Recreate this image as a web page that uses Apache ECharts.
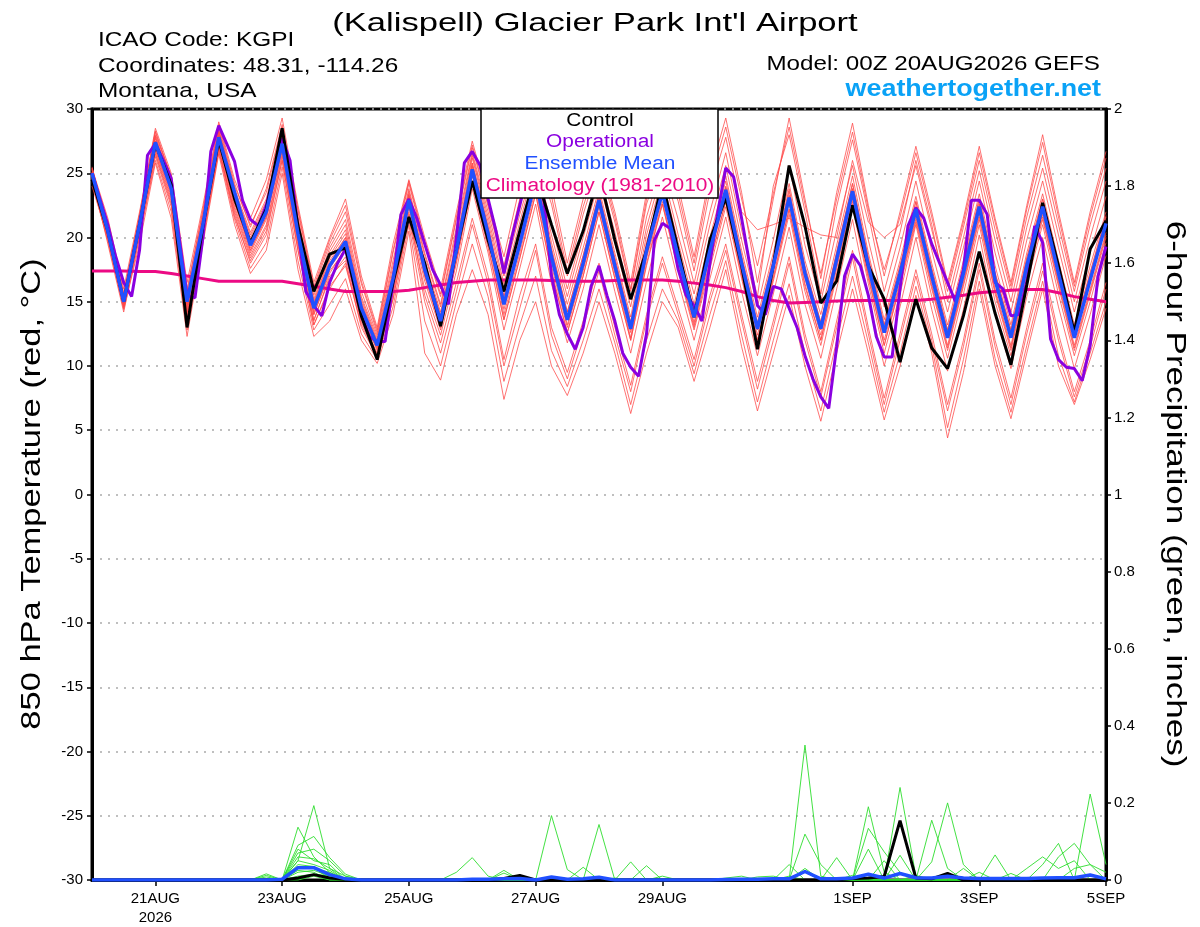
<!DOCTYPE html>
<html>
<head>
<meta charset="utf-8">
<script src="https://cdn.jsdelivr.net/npm/echarts@6/dist/echarts.min.js"></script>
<style>html,body{margin:0;padding:0;background:#fff}#c{width:1200px;height:927px}</style>
</head>
<body>
<div id="c"></div>
<script>
// ---- data (6-hourly steps from 00Z 20AUG2026, 65 steps) ----
const xTickSteps = [4, 12, 20, 28, 36, 48, 56, 64];
const xTickLabels = ['21AUG\n2026', '23AUG', '25AUG', '27AUG', '29AUG', '1SEP', '3SEP', '5SEP'];

const ensembleMean = [25.0,20.5,15.0,21.0,27.4,23.8,15.0,21.0,27.8,23.5,
  19.4,22.0,27.3,20.3,14.5,17.8,19.7,14.5,11.6,16.8,
  22.9,17.5,13.5,19.0,25.3,20.3,14.8,19.5,24.5,18.5,
  13.6,18.0,22.9,17.8,12.9,19.0,23.5,18.5,13.8,19.0,
  23.7,18.0,12.9,17.8,23.1,17.2,12.9,18.3,23.6,17.8,
  12.6,17.2,22.2,17.0,12.2,17.2,22.4,16.7,12.2,17.8,
  22.4,17.2,12.2,16.7,21.1];

const control = [24.5,20.5,15.0,21.0,27.3,24.1,13.0,20.9,27.6,23.0,
  19.6,22.2,28.5,20.9,15.8,18.7,19.2,13.9,10.5,16.5,
  21.6,18.0,13.1,19.0,24.4,19.8,15.8,20.5,25.0,21.0,
  17.2,20.5,25.0,19.8,15.2,19.0,24.3,19.0,13.8,19.8,
  23.1,17.8,11.3,17.8,25.6,20.9,14.9,16.6,22.5,17.8,
  15.2,10.3,15.2,11.4,9.8,13.9,18.9,14.1,10.1,16.3,
  22.7,17.8,12.6,19.1,21.3];

// operational run, 3-hourly (129 values)
const operational = [25.0,23.0,21.0,18.5,16.5,15.4,19.0,26.4,27.3,26.0,
  24.6,20.0,15.5,15.3,20.0,26.7,28.7,27.3,25.9,22.9,
  21.4,20.9,22.5,25.0,27.7,26.0,20.6,15.8,14.7,13.9,
  16.5,18.0,19.1,16.5,14.0,12.3,11.9,11.9,16.5,21.8,
  23.0,21.5,19.5,17.5,16.3,14.8,20.0,25.8,26.7,25.6,
  23.0,20.5,17.2,20.0,22.5,25.0,26.0,23.2,17.0,14.0,
  12.5,11.3,13.0,16.2,17.8,15.5,13.5,11.0,9.9,9.2,
  12.5,19.8,21.1,20.7,17.5,15.5,14.7,13.5,18.0,22.0,
  25.4,24.7,21.5,18.0,14.7,14.0,16.2,16.0,14.5,13.0,
  10.8,9.0,7.6,6.7,11.5,17.0,18.7,17.8,15.5,12.3,
  10.7,10.7,16.0,20.9,22.3,21.5,19.5,18.0,16.5,15.0,
  17.5,22.9,22.9,21.8,16.5,16.0,13.9,14.0,16.5,20.9,
  19.6,12.1,10.5,9.9,9.8,8.85,11.6,17.0,19.3];

const climatology = [17.4,17.4,17.4,17.35,17.35,17.2,17.0,16.8,16.6,16.6,
  16.6,16.6,16.6,16.4,16.2,16.0,15.8,15.8,15.8,15.8,
  15.9,16.1,16.3,16.5,16.6,16.7,16.7,16.7,16.7,16.65,
  16.6,16.6,16.6,16.65,16.7,16.7,16.7,16.6,16.45,16.3,
  16.1,15.8,15.4,15.1,14.9,14.95,15.0,15.05,15.1,15.1,
  15.1,15.1,15.1,15.2,15.35,15.5,15.7,15.8,15.9,15.95,
  15.95,15.7,15.4,15.2,15.0];

// ensemble member temperatures, one row per 6-h step, 20 members per row
const memberTempRows = [
  [24.8,25.2,25.0,24.6,25.4,24.9,25.1,24.7,25.3,24.0,25.5,24.9,25.0,24.5, 24.6,25.3,24.8,25.4,24.3,25.1],
  [20.2,21.0,20.6,19.8,21.5,20.4,20.9,19.5,21.2,20.0,20.7,20.3,20.8,19.9, 20.1,20.8,20.4,21.1,19.7,20.6],
  [14.8,15.5,15.0,14.4,16.0,14.9,15.3,14.2,15.7,14.6,15.2,15.1,14.7,15.4, 14.6,15.3,14.9,15.6,14.5,15.1],
  [20.6,21.8,21.0,19.5,22.0,20.8,21.3,20.0,21.5,20.3,21.1,20.9,21.6,20.5, 20.4,21.4,20.8,21.7,20.1,21.2],
  [26.8,28.5,27.5,25.8,28.2,27.0,27.8,26.3,28.0,26.6,27.4,27.2,27.9,26.9, 26.5,27.7,27.1,28.3,26.0,27.5],
  [23.0,25.0,24.0,21.5,24.6,23.4,24.2,22.4,24.8,22.8,23.8,23.6,24.4,23.2, 22.6,24.3,23.5,24.7,22.0,23.9],
  [13.8,16.5,14.6,12.3,16.0,14.2,15.0,13.2,15.5,13.5,14.8,14.4,15.2,14.0, 13.4,15.0,14.2,15.8,12.8,14.7],
  [20.4,22.5,21.2,19.5,22.0,20.8,21.5,20.0,21.8,20.2,21.0,20.9,21.6,20.6, 20.1,21.4,20.7,22.2,19.8,21.1],
  [27.2,29.0,28.0,26.5,28.6,27.6,28.2,27.0,28.4,26.8,27.8,27.5,28.3,27.4, 27.0,28.2,27.6,28.8,26.7,28.0],
  [22.2,24.5,23.2,21.0,24.0,22.8,23.5,21.8,23.8,22.0,23.0,22.6,23.6,22.4, 21.6,23.4,22.8,24.2,21.4,23.2],
  [18.6,21.5,19.6,17.2,21.0,19.0,20.0,18.0,20.4,18.4,19.4,19.2,20.2,18.8, 18.2,19.8,19.0,20.8,17.6,19.6],
  [21.0,24.5,22.2,19.0,23.5,21.6,22.6,20.2,23.0,20.8,22.0,21.8,22.8,21.4, 20.5,22.4,21.6,23.8,19.6,22.2],
  [26.5,29.3,27.5,25.0,28.6,27.0,27.9,26.0,28.2,26.3,27.3,27.1,28.0,26.8, 26.0,27.7,26.8,28.8,25.5,27.5],
  [19.6,22.5,20.8,17.5,22.0,20.2,21.2,19.0,21.6,19.4,20.5,20.3,21.4,20.0, 19.0,20.9,20.0,22.2,18.2,20.7],
  [13.6,16.5,14.7,12.3,16.0,14.2,15.0,13.2,15.5,13.5,14.6,14.4,15.2,14.0, 13.2,14.9,14.0,16.2,12.8,14.7],
  [16.8,20.0,18.2,13.5,19.5,17.6,18.6,16.2,19.2,17.0,17.9,17.8,18.9,17.4, 16.0,18.4,17.2,19.8,14.8,18.0],
  [18.5,23.0,20.0,16.0,22.0,19.4,20.6,17.8,21.4,18.2,19.8,19.6,21.0,19.0, 18.0,20.3,19.2,22.5,16.8,20.0],
  [13.6,17.0,14.8,12.0,16.4,14.2,15.2,13.2,15.8,13.4,14.6,14.4,15.4,14.0, 13.0,15.0,14.0,16.6,12.5,14.8],
  [11.0,13.0,11.8,10.2,12.6,11.4,12.0,10.8,12.4,10.9,11.7,11.5,12.2,11.2, 10.7,11.9,11.3,12.8,10.5,11.7],
  [15.8,19.5,17.0,14.0,18.8,16.5,17.4,15.2,18.2,15.6,16.9,16.7,17.8,16.2, 15.2,17.3,16.4,19.0,14.6,17.0],
  [22.0,24.5,23.2,20.5,24.2,22.6,23.4,21.6,23.8,21.8,23.0,22.8,23.6,22.4, 21.4,23.3,22.5,24.4,21.0,23.1],
  [15.5,20.0,17.8,11.0,19.4,17.2,18.2,16.0,18.8,16.6,17.6,17.4,18.6,17.0, 15.0,18.0,17.0,19.6,13.5,17.8],
  [11.8,16.0,13.8,8.9,15.4,13.2,14.2,12.4,14.8,12.8,13.6,13.4,14.6,13.0, 11.0,14.0,13.0,15.6,10.0,13.8],
  [16.5,22.0,19.4,14.0,21.4,18.6,19.8,17.4,20.8,18.0,19.2,19.0,20.4,18.4, 15.8,19.6,18.2,21.6,15.0,19.4],
  [21.5,27.5,25.8,17.5,27.0,25.0,26.2,23.8,26.6,24.4,25.5,25.3,26.4,24.8, 21.0,25.8,24.2,27.2,19.5,25.6],
  [17.0,23.0,20.8,14.0,22.4,20.0,21.2,18.8,22.0,19.4,20.4,20.2,21.6,19.8, 16.4,20.8,19.2,22.6,15.4,20.6],
  [10.5,18.5,15.4,7.4,17.6,14.4,16.0,12.8,17.0,13.6,15.0,14.8,16.4,14.0, 10.0,15.4,13.6,17.8,8.8,15.0],
  [15.5,24.0,20.0,12.0,22.8,19.2,20.6,17.6,21.8,18.4,19.6,19.4,21.2,18.8, 14.5,20.2,18.4,23.0,13.2,19.8],
  [19.5,27.0,25.0,15.0,26.4,24.2,25.4,22.6,26.0,23.4,24.6,24.4,25.8,23.8, 19.0,25.2,23.4,26.8,17.0,24.8],
  [13.0,24.0,19.0,10.0,22.6,18.2,19.6,16.4,21.0,17.4,18.6,18.4,20.2,17.8, 12.4,19.2,17.2,23.2,11.2,18.8],
  [9.5,18.0,14.2,7.7,17.0,13.2,14.8,11.8,16.0,12.6,13.8,13.6,15.4,13.0, 9.0,14.2,12.6,17.4,8.4,13.8],
  [13.5,23.0,18.6,11.0,21.8,17.6,19.2,16.0,20.6,17.0,18.2,18.0,20.0,17.4, 13.0,18.6,17.0,22.4,12.0,18.2],
  [18.0,26.5,23.4,15.0,25.8,22.6,23.8,21.0,25.0,22.0,23.0,22.8,24.4,22.4, 17.4,23.4,22.0,26.2,16.0,23.1],
  [13.0,22.0,18.4,11.0,21.2,17.4,18.8,15.8,20.4,16.8,18.0,17.8,19.6,17.2, 12.4,18.4,16.8,21.6,11.8,18.0],
  [8.5,16.5,13.4,6.3,15.8,12.6,13.8,11.0,15.2,12.0,13.0,12.8,14.6,12.2, 8.0,13.4,12.0,16.0,7.0,13.1],
  [14.0,23.5,19.6,11.0,22.6,18.6,20.2,16.6,21.6,17.8,19.2,19.0,20.8,18.4, 13.6,19.6,18.0,23.0,12.0,19.2],
  [18.5,27.0,24.0,15.0,26.4,23.2,24.6,21.6,25.8,22.6,23.6,23.4,25.2,22.8, 18.0,24.0,22.6,26.8,16.0,23.7],
  [14.5,24.0,19.0,13.0,22.8,18.2,19.6,16.6,21.4,17.4,18.6,18.4,20.2,17.8, 14.0,19.0,17.6,23.4,13.5,18.7],
  [10.5,18.5,14.2,8.8,17.4,13.4,14.8,12.0,16.4,12.8,14.0,13.8,15.6,13.2, 10.0,14.4,13.0,18.0,9.4,14.0],
  [15.5,25.0,19.4,13.0,23.6,18.6,20.0,16.8,22.0,17.6,19.2,19.0,21.0,18.2, 15.0,19.6,18.0,24.4,14.0,19.2],
  [19.5,29.3,24.0,17.5,27.8,23.2,24.8,21.6,26.6,22.4,23.8,23.6,25.6,22.8, 19.0,24.4,22.8,28.6,18.2,23.9],
  [14.0,23.5,18.4,11.5,22.0,17.6,19.0,15.8,20.6,16.8,18.2,18.0,19.8,17.2, 13.5,18.6,17.0,23.0,12.4,18.2],
  [8.8,16.5,13.2,6.5,20.6,12.4,13.8,10.8,15.4,11.6,13.0,12.8,14.6,12.0, 8.2,13.4,12.0,17.8,7.2,13.1],
  [13.5,23.0,18.2,11.0,21.0,17.4,18.8,15.6,24.0,16.6,18.0,17.8,19.8,17.0, 13.0,18.4,16.8,23.4,12.0,18.0],
  [18.5,29.3,23.6,15.5,21.5,22.6,24.2,20.8,28.0,21.8,23.2,23.0,25.6,22.2, 18.0,23.8,22.2,28.6,16.4,23.3],
  [12.5,23.0,17.6,10.0,20.8,16.8,18.2,14.8,22.0,15.8,17.4,17.2,19.4,16.4, 12.0,17.8,16.2,22.6,11.0,17.4],
  [8.0,16.8,13.4,5.7,20.2,12.4,14.0,10.6,15.6,11.6,13.0,12.8,15.0,12.0, 7.6,13.4,12.0,17.2,6.5,13.1],
  [13.5,23.5,18.8,11.0,20.0,17.8,19.4,16.0,22.4,17.0,18.4,18.2,20.6,17.6, 13.0,18.9,17.2,23.0,12.0,18.5],
  [19.0,28.9,24.2,16.0,26.0,23.0,24.8,21.4,27.6,22.4,23.8,23.6,25.6,22.8, 18.4,24.2,22.6,28.2,17.0,23.8],
  [13.0,22.5,18.4,11.0,21.2,17.2,18.8,15.4,21.8,16.4,18.0,17.8,19.8,17.0, 12.5,18.4,16.8,22.2,11.8,18.0],
  [7.5,17.0,13.2,5.8,20.0,12.0,13.6,10.0,15.8,11.0,12.8,12.6,14.6,11.6, 7.0,13.2,11.6,17.5,6.4,12.8],
  [12.5,22.0,17.8,10.0,21.0,16.6,18.2,14.6,20.4,15.6,17.4,17.2,19.2,16.4, 12.0,17.8,16.2,21.6,11.0,17.4],
  [17.5,27.1,22.8,15.5,25.6,21.6,23.2,20.0,26.0,21.0,22.4,22.2,24.4,21.4, 17.0,22.8,21.2,26.6,16.2,22.4],
  [12.5,22.0,17.6,11.0,20.6,16.4,18.0,14.4,21.0,15.4,17.2,17.0,19.0,16.2, 12.0,17.6,16.0,21.6,11.6,17.2],
  [7.0,16.5,12.8,4.4,15.8,11.6,13.2,9.6,15.0,10.6,12.4,12.2,14.2,11.4, 6.5,12.8,11.2,16.2,5.2,12.4],
  [12.0,21.5,17.8,9.5,20.8,16.6,18.2,14.4,20.0,15.6,17.4,17.2,19.2,16.4, 11.5,17.8,16.2,21.2,10.5,17.4],
  [18.0,27.1,23.0,16.0,26.0,21.8,23.4,20.2,25.2,21.0,22.6,22.4,24.4,21.6, 17.5,23.0,21.4,26.6,16.6,22.6],
  [12.0,21.5,17.2,10.0,20.6,16.0,17.8,14.0,19.8,15.0,16.8,16.6,18.8,15.8, 11.5,17.3,15.6,21.2,10.6,16.9],
  [7.5,16.5,12.8,5.9,15.8,11.6,13.2,9.8,15.0,10.8,12.4,12.2,14.2,11.4, 7.0,12.8,11.2,16.2,6.4,12.4],
  [13.0,22.5,18.4,11.0,21.6,17.2,18.8,15.4,20.8,16.4,18.0,17.8,19.8,17.0, 12.5,18.4,16.8,22.2,11.6,18.0],
  [18.0,28.0,23.0,16.0,26.4,21.8,23.4,20.0,25.4,21.0,22.6,22.4,24.4,21.6, 17.4,23.0,21.4,27.4,16.6,22.6],
  [12.5,22.0,17.8,10.0,21.0,16.6,18.2,14.6,20.2,15.6,17.4,17.2,19.2,16.4, 12.0,17.8,16.2,21.6,10.8,17.4],
  [8.0,16.5,12.8,7.0,15.8,11.6,13.2,9.8,15.0,10.8,12.4,12.2,14.2,11.4, 7.6,12.8,11.2,16.2,7.2,12.4],
  [12.0,22.0,17.2,10.5,21.0,16.0,17.8,14.0,20.0,15.0,16.8,16.6,18.8,15.8, 11.5,17.3,15.6,21.6,11.0,16.9],
  [16.5,26.7,21.6,14.5,25.4,20.4,22.0,18.6,24.4,19.6,21.2,21.0,23.2,20.2, 16.0,21.7,20.0,26.2,15.0,21.3]
];

// 6-hour precipitation (inches), one array per ensemble member, 65 steps
const precipMembers = [
  [0,0,0,0,0,0,0,0,0,0, 0,0,0,0.137,0.06,0.02,0,0,0,0, 0,0,0,0,0,0,0,0,0,0, 0,0,0,0,0,0,0,0,0,0, 0,0,0,0,0,0.35,0.01,0,0,0, 0,0,0,0,0,0,0,0,0,0, 0,0,0,0.223,0.04],
  [0,0,0,0,0,0,0,0,0,0, 0,0,0,0.05,0.193,0.03,0.01,0,0,0, 0,0,0,0,0,0,0,0,0,0, 0,0,0,0,0,0,0,0,0,0, 0,0,0,0,0,0,0,0,0,0.19, 0.02,0,0,0,0,0,0,0,0,0, 0,0.06,0.095,0.04,0],
  [0,0,0,0,0,0,0,0,0,0, 0,0,0,0.09,0.113,0.058,0.015,0,0,0, 0,0,0,0,0,0,0,0,0,0.167, 0.027,0,0,0,0,0,0,0,0,0, 0,0,0,0,0,0,0,0,0,0, 0,0.24,0.01,0,0,0,0,0,0,0, 0,0,0,0,0],
  [0,0,0,0,0,0,0,0,0,0, 0,0.016,0,0.08,0.05,0.04,0,0,0,0, 0,0,0,0,0,0,0,0,0,0, 0,0,0.144,0,0,0,0,0,0,0, 0,0,0,0,0,0,0,0,0,0.134, 0.073,0.02,0,0.155,0.03,0,0,0,0,0, 0,0,0,0,0],
  [0,0,0,0,0,0,0,0,0,0, 0,0.012,0,0.07,0.08,0.05,0.01,0,0,0, 0,0,0,0.02,0.058,0.01,0,0,0,0, 0,0,0,0,0,0,0,0,0,0, 0,0,0,0,0,0.119,0.04,0,0,0, 0,0,0,0.047,0.2,0.04,0,0,0,0, 0,0,0,0,0],
  [0,0,0,0,0,0,0,0,0,0, 0,0,0,0.06,0.055,0.03,0,0,0,0, 0,0,0,0,0,0,0.025,0,0,0, 0,0.033,0,0,0.047,0,0,0,0,0, 0,0,0,0,0,0,0,0.058,0,0.08, 0,0.064,0,0,0,0,0,0.065,0,0, 0,0,0,0,0],
  [0,0,0,0,0,0,0,0,0,0, 0,0,0,0.05,0.04,0.025,0,0,0,0, 0,0,0,0,0,0,0,0.012,0,0, 0,0,0,0,0,0.037,0,0,0,0, 0,0,0,0,0.04,0,0,0,0,0, 0.05,0,0,0,0,0.03,0,0,0,0, 0.04,0.095,0,0,0],
  [0,0,0,0,0,0,0,0,0,0, 0,0.008,0,0.04,0.035,0,0,0,0,0, 0,0,0,0,0,0,0.018,0,0,0, 0,0,0,0,0,0,0,0,0,0, 0,0,0.008,0.01,0,0.03,0,0,0,0, 0,0,0,0,0,0,0,0,0,0.03, 0.06,0.03,0.05,0,0],
  [0,0,0,0,0,0,0,0,0,0, 0,0,0,0.03,0.03,0.02,0,0,0,0, 0,0,0,0,0,0,0,0,0,0, 0,0,0,0,0,0,0,0,0,0, 0.005,0.01,0,0,0,0,0,0,0.012,0, 0,0,0,0,0,0,0.02,0,0.017,0, 0,0,0,0,0],
  [0,0,0,0,0,0,0,0,0,0, 0,0,0,0.025,0.02,0,0,0,0,0, 0,0,0,0,0,0,0,0,0,0, 0,0,0,0,0,0,0,0,0,0, 0,0,0,0,0,0.02,0,0,0,0, 0,0,0,0,0,0,0,0,0,0, 0,0,0.03,0.04,0.02],
  [0,0,0,0,0,0,0,0,0,0, 0,0,0,0,0.015,0.01,0,0,0,0, 0,0,0,0,0,0,0,0,0,0, 0,0,0,0,0,0,0.01,0,0,0, 0,0,0,0,0,0,0,0,0,0, 0,0,0.012,0,0,0,0,0,0,0, 0,0,0,0,0],
  [0,0,0,0,0,0,0,0,0,0, 0,0,0,0.02,0.025,0.01,0,0,0,0, 0,0,0,0,0,0,0,0,0,0, 0,0,0,0,0,0,0,0,0,0, 0,0,0,0,0,0,0,0,0,0, 0,0,0,0,0,0,0,0,0,0, 0,0,0,0,0],
  [0,0,0,0,0,0,0,0,0,0, 0,0,0,0.01,0.015,0,0,0,0,0, 0,0,0,0,0,0,0,0,0,0, 0,0,0,0.005,0,0,0,0,0,0, 0,0,0,0,0,0,0,0,0,0, 0,0,0,0,0,0,0,0,0,0, 0,0,0,0,0],
  [0,0,0,0,0,0,0,0,0,0, 0,0,0,0,0.01,0,0,0,0,0, 0,0,0,0,0,0,0,0,0,0, 0,0,0,0,0,0,0,0,0,0, 0,0,0,0,0.01,0,0,0,0,0, 0,0,0,0,0,0,0,0,0,0, 0,0,0,0,0]
];
const precipControl = [0,0,0,0,0,0,0,0,0,0, 0,0,0,0.005,0.014,0.005,0.002,0,0,0, 0,0,0,0,0,0,0.004,0.012,0,0, 0,0,0,0,0,0,0,0,0,0, 0,0,0,0,0,0,0,0,0.004,0.005, 0.009,0.154,0.005,0.003,0.017,0,0,0,0,0, 0,0,0,0,0];
const precipMean = [0,0,0,0,0,0,0,0,0,0, 0,0,0.002,0.032,0.032,0.014,0.003,0,0,0, 0,0,0,0,0.002,0.002,0.003,0.004,0,0.008, 0.002,0.003,0.007,0,0,0,0,0,0,0, 0.001,0.002,0.002,0.003,0.003,0.022,0.003,0.003,0.005,0.015, 0.005,0.017,0.006,0.005,0.01,0.005,0.004,0.004,0.004,0.004, 0.005,0.006,0.006,0.013,0.003];

// ---- chart ----
const FONT = 'Liberation Sans, Arial, Helvetica, sans-serif';
const COL = { member: 'rgba(255,70,70,0.85)', control: '#000000', op: '#8a00e0', mean: '#2050ff', clim: '#ec0a84', green: '#2ede2e', site: '#0aa2f6' };

const steps = ensembleMean.map((_, i) => i);
const pairs = arr => arr.map((v, i) => [i, v]);

const series = [];
for (let j = 0; j < memberTempRows[0].length; j++) {
  series.push({ type: 'line', name: 'member' + j, yAxisIndex: 0, data: memberTempRows.map((r, i) => [i, r[j]]),
    symbol: 'none', silent: true, z: 2, lineStyle: { color: COL.member, width: 0.9 } });
}
precipMembers.forEach((arr, j) => {
  series.push({ type: 'line', name: 'precip' + j, yAxisIndex: 1, data: pairs(arr), symbol: 'none', silent: true, z: 3,
    lineStyle: { color: COL.green, width: 0.9 } });
});
series.push({ type: 'line', name: 'precipControl', yAxisIndex: 1, data: pairs(precipControl), symbol: 'none', z: 4, lineStyle: { color: COL.control, width: 3 } });
series.push({ type: 'line', name: 'precipMean', yAxisIndex: 1, data: pairs(precipMean), symbol: 'none', z: 5, lineStyle: { color: COL.mean, width: 3.5 } });
series.push({ type: 'line', name: 'Climatology', yAxisIndex: 0, data: pairs(climatology), symbol: 'none', z: 6, lineStyle: { color: COL.clim, width: 3 } });
series.push({ type: 'line', name: 'Operational', yAxisIndex: 0, data: operational.map((v, k) => [k / 2, v]), symbol: 'none', z: 7, lineStyle: { color: COL.op, width: 3 } });
series.push({ type: 'line', name: 'Control', yAxisIndex: 0, data: pairs(control), symbol: 'none', z: 8, lineStyle: { color: COL.control, width: 3 } });
series.push({ type: 'line', name: 'Ensemble Mean', yAxisIndex: 0, data: pairs(ensembleMean), symbol: 'none', z: 9, lineStyle: { color: COL.mean, width: 3.5 } });

const gridL = 92, gridR = 1106, gridT = 109, gridB = 883;

function label(x, y, text, opts) {
  return Object.assign({ type: 'text', x: x, y: y, z: 101,
    style: Object.assign({ text: text, fill: '#000', font: '20px ' + FONT, verticalAlign: 'middle' }, opts.style || {}) },
    opts.el || {});
}

const option = {
  animation: false,
  backgroundColor: '#ffffff',
  textStyle: { fontFamily: FONT },
  grid: { left: gridL, right: 1200 - gridR, top: gridT, bottom: 927 - gridB, show: true, borderColor: '#000', borderWidth: 3, backgroundColor: 'transparent' },
  xAxis: {
    type: 'value', min: 0, max: steps.length - 1,
    axisLine: { show: true, onZero: false, lineStyle: { color: '#000', width: 3 } },
    axisTick: { show: true, customValues: xTickSteps, length: 6, lineStyle: { color: '#000', width: 1.5 } },
    axisLabel: { show: true, customValues: xTickSteps, color: '#000', fontSize: 15, fontFamily: FONT, margin: 9, lineHeight: 19,
      formatter: v => { const i = xTickSteps.indexOf(Math.round(v)); return i >= 0 ? xTickLabels[i] : ''; } },
    splitLine: { show: false }
  },
  yAxis: [
    { type: 'value', min: -30, max: 30, interval: 5, position: 'left',
      axisLine: { show: true, onZero: false, lineStyle: { color: '#000', width: 3 } },
      axisTick: { show: true, length: 5, lineStyle: { color: '#000', width: 1.5 } },
      axisLabel: { color: '#000', fontSize: 15, fontFamily: FONT, margin: 9 },
      splitLine: { show: true, lineStyle: { color: '#aaaaaa', width: 1.5, type: [2, 6] } } },
    { type: 'value', min: 0, max: 2, interval: 0.2, position: 'right',
      axisLine: { show: true, onZero: false, lineStyle: { color: '#000', width: 3 } },
      axisTick: { show: true, length: 5, lineStyle: { color: '#000', width: 1.5 } },
      axisLabel: { color: '#000', fontSize: 15, fontFamily: FONT, margin: 8, formatter: v => String(Math.round(v * 10) / 10) },
      splitLine: { show: false } }
  ],
  series: series,
  graphic: [
    label(595, 24, "(Kalispell) Glacier Park Int'l Airport", { style: { font: '26px ' + FONT, align: 'center' }, el: { scaleX: 1.33 } }),
    label(98, 40, 'ICAO Code: KGPI', { style: { font: '21px ' + FONT }, el: { scaleX: 1.16 } }),
    label(98, 66, 'Coordinates: 48.31, -114.26', { style: { font: '21px ' + FONT }, el: { scaleX: 1.16 } }),
    label(98, 91, 'Montana, USA', { style: { font: '21px ' + FONT }, el: { scaleX: 1.16 } }),
    label(1100, 64, 'Model: 00Z 20AUG2026 GEFS', { style: { font: '20px ' + FONT, align: 'right' }, el: { scaleX: 1.21 } }),
    label(1101, 89, 'weathertogether.net', { style: { font: 'bold 24px ' + FONT, align: 'right', fill: COL.site }, el: { scaleX: 1.12 } }),
    label(32, 494, '850 hPa Temperature (red, °C)', { style: { font: '28px ' + FONT, align: 'center' }, el: { rotation: Math.PI / 2, scaleX: 1.23 } }),
    label(1175, 494, '6-hour Precipitation (green, inches)', { style: { font: '28px ' + FONT, align: 'center' }, el: { rotation: -Math.PI / 2, scaleX: 1.25 } }),
    { type: 'rect', z: 100, shape: { x: 481, y: 109, width: 237, height: 89 }, style: { fill: '#fff', stroke: '#000', lineWidth: 1.5 } },
    label(600, 121, 'Control', { style: { font: '18px ' + FONT, align: 'center' }, el: { scaleX: 1.16 } }),
    label(600, 142, 'Operational', { style: { font: '18px ' + FONT, align: 'center', fill: COL.op }, el: { scaleX: 1.16 } }),
    label(600, 164, 'Ensemble Mean', { style: { font: '18px ' + FONT, align: 'center', fill: COL.mean }, el: { scaleX: 1.16 } }),
    label(600, 186, 'Climatology (1981-2010)', { style: { font: '18px ' + FONT, align: 'center', fill: COL.clim }, el: { scaleX: 1.16 } })
  ]
};

const chart = echarts.init(document.getElementById('c'), null, { renderer: 'canvas', width: 1200, height: 927 });
chart.setOption(option);
</script>
</body>
</html>
